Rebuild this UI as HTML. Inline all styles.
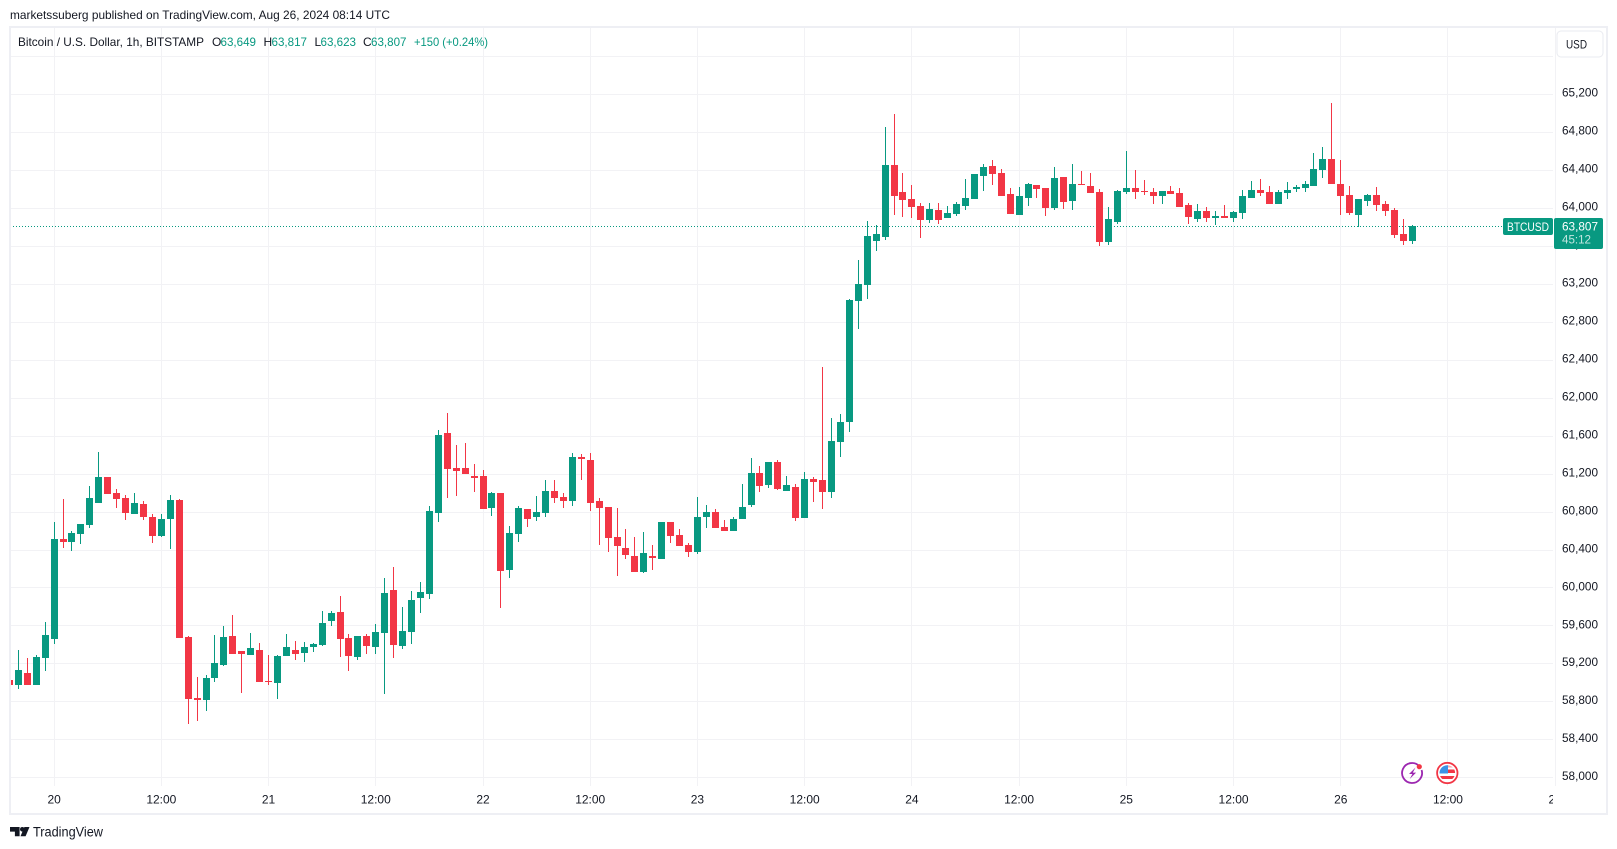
<!DOCTYPE html>
<html lang="en">
<head>
<meta charset="utf-8">
<title>BTCUSD 1h chart</title>
<style>
html,body{margin:0;padding:0;background:#fff;width:1617px;height:849px;overflow:hidden}
svg{display:block}
text{font-family:"Liberation Sans",Arial,sans-serif;font-size:12px;fill:#131722}
</style>
</head>
<body>
<svg id="chart" xmlns="http://www.w3.org/2000/svg" width="1617" height="849" viewBox="0 0 1617 849">
  <defs>
    <clipPath id="plot-clip"><rect x="10" y="27" width="1543" height="759"/></clipPath>
    <clipPath id="time-clip"><rect x="10" y="787" width="1543" height="26"/></clipPath>
  </defs>
  <rect x="0" y="0" width="1617" height="849" fill="#ffffff"/>
  <g id="v-grid"></g>
  <g id="h-grid"></g>
  <line id="price-line" x1="10" x2="1503" stroke="#089981" stroke-width="1" stroke-dasharray="1 2" shape-rendering="crispEdges"/>
  <g id="candles" clip-path="url(#plot-clip)"></g>
  <g id="price-axis"></g>
  <g id="time-axis" clip-path="url(#time-clip)"></g>

  <rect x="10" y="27" width="1597" height="787" fill="none" stroke="#eeeff4" stroke-width="2" shape-rendering="crispEdges"/>

  <text x="10" y="19" textLength="380" lengthAdjust="spacingAndGlyphs" fill="#131722">marketssuberg published on TradingView.com, Aug 26, 2024 08:14 UTC</text>

  <g>
    <text x="18" y="46" textLength="186" lengthAdjust="spacingAndGlyphs">Bitcoin / U.S. Dollar, 1h, BITSTAMP</text>
    <text x="212" y="46">O</text>
    <text x="220.5" y="46" textLength="35.5" lengthAdjust="spacingAndGlyphs" style="fill:#089981">63,649</text>
    <text x="263.5" y="46">H</text>
    <text x="271.5" y="46" textLength="35.5" lengthAdjust="spacingAndGlyphs" style="fill:#089981">63,817</text>
    <text x="314.5" y="46">L</text>
    <text x="320.5" y="46" textLength="35.5" lengthAdjust="spacingAndGlyphs" style="fill:#089981">63,623</text>
    <text x="363" y="46">C</text>
    <text x="371" y="46" textLength="35.5" lengthAdjust="spacingAndGlyphs" style="fill:#089981">63,807</text>
    <text x="414" y="46" textLength="74" lengthAdjust="spacingAndGlyphs" style="fill:#089981">+150 (+0.24%)</text>
  </g>

  <g>
    <rect x="1557" y="31" width="46" height="26" rx="4" fill="#ffffff" stroke="#e9ebf0" stroke-width="1"/>
    <text x="1566" y="48.5" textLength="21" lengthAdjust="spacingAndGlyphs">USD</text>
  </g>

  <g>
    <rect x="1503" y="218" width="50" height="17" rx="2" fill="#089981"/>
    <text x="1507" y="231" textLength="42" lengthAdjust="spacingAndGlyphs" style="fill:#ffffff">BTCUSD</text>
    <rect x="1554" y="218" width="49" height="31" rx="2" fill="#089981"/>
    <text x="1562" y="230.5" textLength="36" lengthAdjust="spacingAndGlyphs" style="fill:#ffffff">63,807</text>
    <text x="1562" y="243.5" textLength="29" lengthAdjust="spacingAndGlyphs" style="fill:#ffffff;fill-opacity:.75">45:12</text>
  </g>

  <g>
    <path d="M1419 765.8A10 10 0 1 0 1421.6 770" fill="none" stroke="#9c27b0" stroke-width="1.8"/>
    <path d="M1415.5 767.5l-6.5 6.5h3.4l-2.7 5 6.4-6.4h-3.3z" fill="#9c27b0"/>
    <circle cx="1419.3" cy="766.7" r="2.6" fill="#f23645"/>
  </g>

  <g>
    <circle cx="1447.3" cy="773" r="10.2" fill="#ffffff" stroke="#f23645" stroke-width="1.8"/>
    <clipPath id="flag-clip"><circle cx="1447.3" cy="773" r="7.8"/></clipPath>
    <g clip-path="url(#flag-clip)">
      <rect x="1439" y="765" width="17" height="16" fill="#ffffff"/>
      <rect x="1447" y="769.5" width="9" height="3.5" fill="#f23645"/>
      <rect x="1439" y="776" width="17" height="3" fill="#f23645"/>
      <rect x="1447" y="765" width="9" height="2.5" fill="#f7a5ac"/>
      <rect x="1439" y="765" width="9" height="8.5" fill="#3c92e6"/>
    </g>
  </g>

  <g>
    <path d="M10 827h9.6v9.2h-4.7v-4.6H10z" fill="#131722"/>
    <circle cx="22.3" cy="829.3" r="2.3" fill="#131722"/>
    <path d="M29.5 827l-3.9 9.2h-5.1l3.9-9.2z" fill="#131722"/>
    <text x="33" y="836.5" textLength="70" lengthAdjust="spacingAndGlyphs" style="font-size:13.5px">TradingView</text>
  </g>
</svg>

<script>
const opens = [
59024,58972,59098,58972,59256,59456,60509,60477,60561,60656,
60888,61161,60993,60940,60772,60877,60740,60540,60719,60919,
59477,58835,58814,59045,59182,59488,59330,59288,59340,59014,
58993,59277,59340,59309,59372,59393,59646,59741,59467,59267,
59488,59372,59520,59972,59383,59530,59888,59930,60782,61625,
61256,61256,61172,61172,60835,60993,60182,60561,60825,60740,
60782,61014,60951,60909,61372,61340,60909,60846,60530,60414,
60330,60161,60330,60298,60688,60551,60446,60372,60740,60793,
60635,60593,60719,60867,61204,61077,61319,61014,61056,60730,
61140,61130,61004,61530,61740,63018,63186,63650,63692,64451,
64166,64093,64019,63871,63977,63892,63935,64019,64093,64335,
64440,64367,64145,63924,64103,64240,64208,63998,64324,64072,
64251,64230,64166,63640,63850,64166,64208,64177,64166,64124,
64177,64156,64029,63882,63966,63892,63913,63892,63945,64103,
64187,64166,64040,64156,64198,64208,64230,64398,64514,64251,
64135,63924,64072,64135,64040,63977,63724,63649];
const highs = [
59024,59340,59256,59288,59635,60688,60930,60593,60667,61067,
61425,61161,61035,60972,60993,60909,60772,60772,60972,60930,
59488,59056,59077,59498,59593,59709,59330,59519,59414,59288,
59288,59509,59435,59425,59414,59751,59751,59909,59509,59488,
59509,59614,60099,60214,59793,59962,60056,60856,61656,61835,
61498,61519,61298,61235,61004,60993,60646,60856,60825,60961,
61130,61130,60993,61414,61404,61414,60940,60846,60835,60614,
60530,60582,60446,60688,60688,60614,60467,60951,60867,60825,
60709,60740,61088,61361,61277,61319,61340,61172,61088,61214,
61161,62319,61783,61825,63039,63450,63861,63819,64851,64988,
64367,64240,64050,64050,64050,64019,64061,64303,64356,64461,
64503,64409,64208,64219,64261,64240,64208,64430,64324,64461,
64388,64367,64198,64008,64187,64598,64398,64293,64208,64177,
64230,64208,64050,64040,64008,63966,64029,63966,64187,64282,
64303,64230,64187,64272,64240,64282,64577,64640,65104,64503,
64230,64093,64145,64219,64072,63998,63882,63817];
const lows = [
58972,58930,58972,58972,59119,59403,60414,60382,60456,60625,
60888,60982,60835,60709,60772,60709,60467,60530,60403,59467,
58561,58593,58698,59003,59172,59298,58888,59288,59003,58972,
58824,59277,59235,59214,59320,59383,59593,59267,59119,59235,
59298,59298,58877,59256,59351,59404,59730,59877,60688,60940,
60961,61193,61004,60825,60751,59782,60098,60477,60635,60698,
60740,60888,60835,60856,61130,60804,60446,60372,60119,60298,
60161,60151,60182,60298,60467,60435,60319,60351,60625,60625,
60593,60593,60719,60846,61004,61046,61025,61014,60698,60730,
60898,60825,60940,61372,61635,62723,63039,63545,63661,63924,
63903,63892,63682,63840,63829,63892,63913,63977,64093,64177,
64240,64124,63935,63924,64019,64103,63913,63977,63987,63977,
64240,64156,63597,63608,63829,64145,64093,64135,64040,64040,
64145,64008,63829,63850,63850,63819,63892,63850,63882,64103,
64124,64040,64040,64093,64166,64166,64230,64314,64251,63924,
63924,63798,64019,63966,63913,63682,63608,63623];
const closes = [
58972,59130,58972,59267,59498,60509,60477,60572,60667,60940,
61161,60982,60930,60782,60888,60740,60540,60719,60919,59467,
58824,58814,59045,59203,59477,59298,59298,59361,59003,59003,
59277,59372,59298,59372,59404,59625,59730,59456,59277,59488,
59383,59530,59941,59393,59541,59867,59951,60804,61604,61246,
61225,61193,61151,60825,60993,60172,60572,60835,60719,60793,
61014,60940,60909,61372,61351,60888,60835,60519,60435,60340,
60161,60361,60309,60688,60540,60435,60372,60740,60793,60625,
60593,60719,60846,61204,61067,61319,61035,61077,60730,61140,
61109,61004,61540,61740,63028,63197,63703,63724,64451,64124,
64082,64008,63871,63987,63871,63945,64040,64103,64356,64430,
64356,64124,63935,64124,64251,64198,63998,64314,64061,64251,
64240,64156,63640,63882,64177,64208,64166,64166,64124,64177,
64145,64008,63903,63966,63892,63913,63892,63956,64124,64187,
64156,64040,64166,64187,64219,64251,64409,64514,64251,64124,
63945,64093,64135,64029,63966,63713,63650,63807];

const priceTicks = [65600,65200,64800,64400,64000,63600,63200,62800,62400,62000,61600,61200,60800,60400,60000,59600,59200,58800,58400,58000];
const timeTickLabels = ["20","12:00","21","12:00","22","12:00","23","12:00","24","12:00","25","12:00","26","12:00","27"];
const firstTimeTickBar = 5;
const barsPerTimeTick = 12;
const lastPrice = closes[closes.length - 1];

const NS = "http://www.w3.org/2000/svg";
const UP = "#089981", DOWN = "#F23645", GRID = "#f2f2f5";

function xScale(bar) { return 54.12 + (bar - firstTimeTickBar) * 8.935; }
function yScale(price) { return 93.9 + (65200 - price) * 0.09492; }
function pixelX(bar) { return Math.floor(xScale(bar)); }
function pixelY(price) { return Math.round(yScale(price)); }
function fmt(price) { return String(price).replace(/(\d)(\d{3})$/, "$1,$2"); }

function makeRect(parent, x, y, w, h, fill) {
  const r = document.createElementNS(NS, "rect");
  r.setAttribute("x", x);
  r.setAttribute("y", y);
  r.setAttribute("width", w);
  r.setAttribute("height", h);
  r.setAttribute("fill", fill);
  r.setAttribute("shape-rendering", "crispEdges");
  parent.appendChild(r);
  return r;
}

const vGrid = document.getElementById("v-grid");
const hGrid = document.getElementById("h-grid");
const candlesG = document.getElementById("candles");
const priceAxis = document.getElementById("price-axis");
const timeAxis = document.getElementById("time-axis");

timeTickLabels.forEach(function (label, t) {
  const bar = firstTimeTickBar + t * barsPerTimeTick;
  const line = makeRect(vGrid, pixelX(bar), 28, 1, 758, GRID);
  
  
  const txt = document.createElementNS(NS, "text");
  txt.setAttribute("x", xScale(bar));
  txt.setAttribute("y", 803.5);
  txt.setAttribute("text-anchor", "middle");
  txt.textContent = label;
  
  
  timeAxis.appendChild(txt);
});

priceTicks.forEach(function (price) {
  const y = pixelY(price);
  const line = makeRect(hGrid, 11, y, 1542, 1, GRID);
  
  
  if (price > 65200) return;
  const txt = document.createElementNS(NS, "text");
  txt.setAttribute("x", 1562);
  txt.setAttribute("y", yScale(price) + 2.8);
  txt.setAttribute("textLength", 36);
  txt.setAttribute("lengthAdjust", "spacingAndGlyphs");
  txt.textContent = fmt(price);
  
  
  priceAxis.appendChild(txt);
});

const priceLine = document.getElementById("price-line");
priceLine.setAttribute("y1", pixelY(lastPrice) + 0.5);
priceLine.setAttribute("y2", pixelY(lastPrice) + 0.5);

opens.forEach(function (open, i) {
  const close = closes[i];
  const color = close >= open ? UP : DOWN;
  const x = pixelX(i);
  const wickTop = pixelY(highs[i]);
  const wickBottom = pixelY(lows[i]);
  const wick = makeRect(candlesG, x, wickTop, 1, Math.max(1, wickBottom - wickTop), color);
  
  
  const bodyTop = pixelY(Math.max(open, close));
  const bodyBottom = pixelY(Math.min(open, close));
  const body = makeRect(candlesG, x - 3, bodyTop, 7, Math.max(1, bodyBottom - bodyTop), color);
  
  
});
</script>
</body>
</html>
